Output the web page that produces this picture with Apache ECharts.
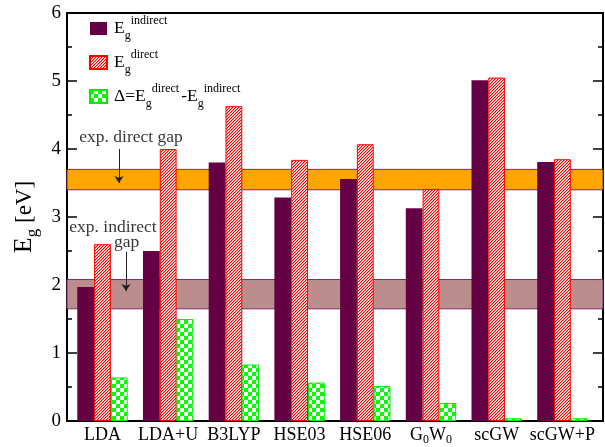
<!DOCTYPE html>
<html><head><meta charset="utf-8">
<script src="https://cdn.jsdelivr.net/npm/echarts@6/dist/echarts.min.js"></script>
<style>html,body{margin:0;padding:0;background:#fff}#c{width:605px;height:447px}</style>
</head><body><div id="c"></div>
<script>
// ---- data ----
const categories = ['LDA', 'LDA+U', 'B3LYP', 'HSE03', 'HSE06', 'G0W0', 'scGW', 'scGW+P'];
const indirectGap = [1.97, 2.50, 3.80, 3.285, 3.56, 3.13, 5.01, 3.81];
const directGap = [2.60, 4.00, 4.63, 3.84, 4.07, 3.41, 5.05, 3.85];
const deltaGap = [0.64, 1.50, 0.83, 0.565, 0.515, 0.265, 0.04, 0.04];
const expDirectBand = [3.40, 3.70];
const expIndirectBand = [1.65, 2.08];
const annotationText = ['exp. direct gap', 'exp. indirect', 'gap'];
const annotationX = [1.434, 1.16, 1.368];
const annotationY = [4.17, 2.85, 2.62];
const arrowX = [1.251, 1.358];
const arrowFrom = [4.0, 2.49];
const arrowTo = [3.5, 1.91];
const yTicks = [0, 1, 2, 3, 4, 5, 6];

// ---- patterns ----
function makeHatch() {
  const c = document.createElement('canvas'); c.width = 3; c.height = 3;
  const ctx = c.getContext('2d'); const img = ctx.createImageData(3, 3);
  for (let y = 0; y < 3; y++) for (let x = 0; x < 3; x++) {
    const k = (x + y) % 3; const i = (y * 3 + x) * 4;
    const col = k === 0 ? [255, 0, 0] : (k === 1 ? [255, 160, 160] : [255, 255, 255]);
    img.data[i] = col[0]; img.data[i + 1] = col[1]; img.data[i + 2] = col[2]; img.data[i + 3] = 255;
  }
  ctx.putImageData(img, 0, 0); return c;
}
function makeChecker() {
  const c = document.createElement('canvas'); c.width = 8; c.height = 8;
  const ctx = c.getContext('2d');
  ctx.fillStyle = '#fff'; ctx.fillRect(0, 0, 8, 8);
  ctx.fillStyle = '#00ff00'; ctx.fillRect(0, 0, 4, 4); ctx.fillRect(4, 4, 4, 4);
  return c;
}

const serif = 'Liberation Serif';
const pos = categories.map((_, i) => i + 1);
const pairs = arr => arr.map((v, i) => [pos[i], v]);
const labelMap = {};
categories.forEach((c, i) => {
  labelMap[pos[i]] = c === 'G0W0' ? '{n|G}{s|0}{n|W}{s|0}' : '{n|' + c + '}';
});
const legendNames = {
  indirect: '{E|E}{sub|g}{sup|indirect}',
  direct: '{E|E}{sub|g}{sup|direct}',
  delta: '{E|Δ=E}{sub|g}{sup|direct}{E|-E}{sub|g}{sup|indirect}'
};

const chart = echarts.init(document.getElementById('c'), null, {renderer: 'canvas'});
const axisLineStyle = {color: '#000', width: 2};
const yAxisBase = {
  type: 'value', min: 0, max: 6, interval: 1,
  axisLine: {show: true, onZero: false, lineStyle: axisLineStyle},
  axisTick: {show: true, inside: true, length: 10, lineStyle: {color: '#000', width: 1.5}},
  minorTick: {show: true, splitNumber: 2, length: 5, lineStyle: {color: '#000', width: 1.5}},
  splitLine: {show: false}
};
const option = {
  animation: false,
  backgroundColor: '#fff',
  grid: {left: 67, right: 2, top: 13, bottom: 26, show: true, borderColor: '#000', borderWidth: 2,
    containLabel: false, outerBoundsMode: 'none'},
  legend: {
    orient: 'vertical', left: 84, top: 10, itemWidth: 17, itemHeight: 13, itemGap: 7,
    icon: 'rect',
    data: ['indirect', 'direct', 'delta'],
    formatter: name => legendNames[name],
    textStyle: {
      color: '#000', fontFamily: serif,
      rich: {
        E: {fontSize: 17.5, lineHeight: 27, fontFamily: serif, color: '#000', padding: [0, 0, 0, 2]},
        sub: {fontSize: 12, lineHeight: 13, verticalAlign: 'bottom', fontFamily: serif, color: '#000'},
        sup: {fontSize: 12, lineHeight: 13, verticalAlign: 'top', fontFamily: serif, color: '#000'}
      }
    }
  },
  xAxis: [{
    type: 'value', min: 0.46, max: 8.618,
    axisLine: {show: true, onZero: false, lineStyle: axisLineStyle},
    axisTick: {show: false}, splitLine: {show: false},
    axisLabel: {
      customValues: pos, margin: 5, color: '#000', fontFamily: serif,
      formatter: v => labelMap[v] || '',
      rich: {
        n: {fontSize: 18, lineHeight: 18, verticalAlign: 'top', fontFamily: serif, color: '#000'},
        s: {fontSize: 12, lineHeight: 12, padding: [10, 0, 0, 0], fontFamily: serif, color: '#000'}
      }
    }
  }],
  yAxis: [
    Object.assign({}, yAxisBase, {
      position: 'left',
      axisLabel: {show: true, margin: 6, color: '#000', fontFamily: serif, fontSize: 19,
        formatter: v => yTicks.indexOf(v) >= 0 ? String(v) : ''},
      name: '{E|E}{g|g}{t| [eV]}', nameLocation: 'middle', nameGap: 25, nameRotate: 90,
      nameTextStyle: {
        color: '#000', fontFamily: serif,
        rich: {
          E: {fontSize: 26, lineHeight: 32, fontFamily: serif, color: '#000'},
          g: {fontSize: 17, lineHeight: 17, verticalAlign: 'bottom', fontFamily: serif, color: '#000'},
          t: {fontSize: 23, lineHeight: 32, fontFamily: serif, color: '#000'}
        }
      }
    }),
    Object.assign({}, yAxisBase, {position: 'right', axisLabel: {show: false}})
  ],
  series: [
    {
      type: 'line', name: 'bands', data: [], silent: true, z: 1,
      markArea: {
        silent: true,
        data: [
          [{yAxis: expDirectBand[0], itemStyle: {color: '#ffa500', borderColor: '#7a2b66', borderWidth: 1}}, {yAxis: expDirectBand[1]}],
          [{yAxis: expIndirectBand[0], itemStyle: {color: '#bb8e8d', borderColor: '#7a2b66', borderWidth: 1}}, {yAxis: expIndirectBand[1]}]
        ]
      }
    },
    {
      type: 'bar', name: 'indirect', data: pairs(indirectGap), barWidth: 16.8, barGap: '0%', z: 3,
      itemStyle: {color: '#660044'}
    },
    {
      type: 'bar', name: 'direct', data: pairs(directGap), barWidth: 16.8, barGap: '0%', z: 3,
      itemStyle: {color: {image: makeHatch(), repeat: 'repeat'}, borderColor: '#ff0000', borderWidth: 1}
    },
    {
      type: 'bar', name: 'delta', data: pairs(deltaGap), barWidth: 16.8, barGap: '0%', z: 3,
      itemStyle: {color: {image: makeChecker(), repeat: 'repeat'}, borderColor: '#00ee00', borderWidth: 1}
    },
    {
      type: 'scatter', name: 'notes', silent: true, z: 6, symbolSize: 0,
      data: annotationText.map((t, i) => ({name: t, value: [annotationX[i], annotationY[i]]})),
      label: {show: true, position: 'inside', formatter: '{b}', color: '#000', fontFamily: serif, fontSize: 17.5}
    },
    {
      type: 'lines', name: 'arrows', coordinateSystem: 'cartesian2d', silent: true, z: 6,
      symbol: ['none', 'arrow'], symbolSize: 7,
      lineStyle: {color: '#222', width: 1, opacity: 1},
      data: arrowX.map((x, i) => ({coords: [[x, arrowFrom[i]], [x, arrowTo[i]]]}))
    }
  ]
};
chart.setOption(option);
</script>
</body></html>
